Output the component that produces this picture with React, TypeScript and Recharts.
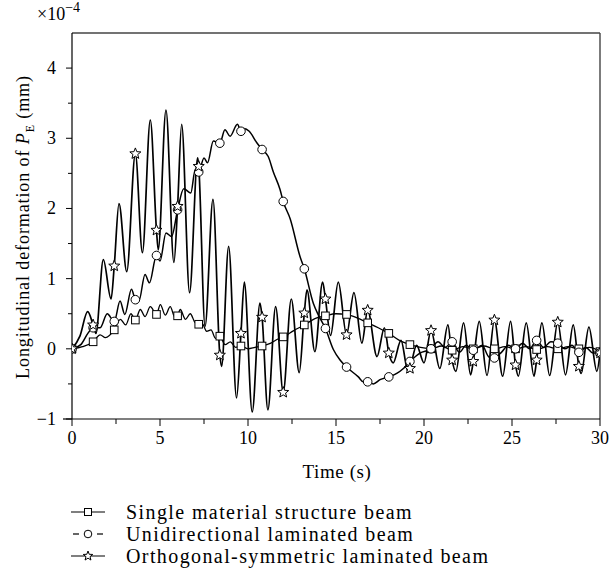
import React from 'react';
import { LineChart, Line, XAxis, YAxis, ReferenceLine } from 'recharts';

// Times (s) at which each series carries a symbol
const markerTimes = [0, 1.2, 2.4, 3.6, 4.8, 6, 7.2, 8.4, 9.6, 10.8, 12, 13.2, 14.4, 15.6, 16.8, 18, 19.2, 20.4, 21.6, 22.8, 24, 25.2, 26.4, 27.6, 28.8, 30];

// Single material structure beam (×10^-4 mm)
const singleTimes = [0, 0.6, 1.2, 1.6, 1.9, 2.4, 2.75, 3.05, 3.35, 3.6, 3.88, 4.15, 4.45, 4.8, 5.02, 5.3, 5.58, 5.85, 6, 6.15, 6.45, 6.72, 7, 7.2, 7.4, 7.65, 7.9, 8.15, 8.4, 8.7, 9, 9.3, 9.6, 10, 10.4, 10.8, 11.3, 11.7, 12, 12.6, 13.2, 13.8, 14.4, 15, 15.6, 16.2, 16.8, 17.4, 18, 18.6, 19.2, 19.8, 20.4, 21, 21.6, 22.2, 22.8, 23.4, 24, 24.6, 25.2, 25.8, 26.4, 27, 27.6, 28.2, 28.8, 29.4, 30];
const singleValues = [0, 0.03, 0.1, 0.2, 0.16, 0.27, 0.42, 0.34, 0.5, 0.41, 0.56, 0.46, 0.6, 0.49, 0.63, 0.48, 0.6, 0.45, 0.47, 0.56, 0.42, 0.5, 0.37, 0.35, 0.36, 0.25, 0.27, 0.15, 0.18, 0.06, 0.1, 0.02, 0.04, 0, 0.02, 0.04, 0.08, 0.14, 0.17, 0.26, 0.34, 0.43, 0.47, 0.5, 0.49, 0.44, 0.37, 0.3, 0.22, 0.12, 0.06, 0.02, 0, 0.04, -0.02, 0.03, 0, 0.04, 0, 0.03, 0, 0.03, -0.01, 0.03, 0, 0.03, 0, 0.02, -0.04];

// Unidirectional laminated beam (×10^-4 mm)
const uniTimes = [0, 0.5, 0.9, 1.2, 1.6, 2, 2.4, 2.73, 3, 3.38, 3.6, 3.8, 4.15, 4.4, 4.8, 5, 5.34, 5.66, 6, 6.35, 6.75, 7, 7.2, 7.5, 7.7, 8.03, 8.4, 8.69, 8.98, 9.4, 9.6, 9.78, 10.07, 10.49, 10.8, 11.15, 11.44, 11.82, 12, 12.4, 12.95, 13.2, 13.71, 14, 14.4, 14.85, 15.23, 15.6, 16.27, 16.55, 16.8, 17.12, 17.5, 18, 18.45, 18.83, 19.2, 19.77, 20.4, 20.8, 21.2, 21.6, 22, 22.4, 22.8, 23.3, 23.7, 24, 24.4, 24.8, 25.2, 25.6, 26, 26.4, 26.8, 27.2, 27.6, 28, 28.4, 28.8, 29.2, 29.6, 30];
const uniValues = [0, 0.06, 0.22, 0.3, 0.3, 0.5, 0.39, 0.68, 0.49, 0.85, 0.7, 0.68, 1.06, 0.94, 1.33, 1.25, 1.65, 1.6, 1.98, 2.28, 2.22, 2.55, 2.52, 2.72, 2.65, 2.96, 2.93, 3.12, 3.03, 3.2, 3.1, 3.14, 3.1, 2.94, 2.84, 2.74, 2.52, 2.27, 2.1, 1.85, 1.32, 1.14, 0.65, 0.48, 0.29, -0.01, -0.16, -0.26, -0.4, -0.47, -0.47, -0.5, -0.44, -0.4, -0.35, -0.28, -0.18, -0.06, 0, 0.1, 0.02, 0.1, -0.05, 0.05, -0.02, 0.05, -0.12, -0.13, -0.05, 0.05, 0, 0.08, 0, 0.12, 0.02, 0.1, 0.08, 0, 0.05, -0.05, 0.02, -0.06, -0.06];

// Orthogonal-symmetric laminated beam (×10^-4 mm)
const orthoTimes = [0, 0.45, 0.89, 1.2, 1.36, 1.78, 2.22, 2.4, 2.67, 3.11, 3.6, 4, 4.45, 4.8, 4.9, 5.34, 5.79, 6, 6.23, 6.68, 7.14, 7.2, 7.56, 8.01, 8.4, 8.5, 8.9, 9.35, 9.6, 9.79, 10.24, 10.68, 10.8, 11.13, 11.57, 12, 12.46, 12.91, 13.2, 13.35, 13.8, 14.24, 14.4, 14.69, 15.13, 15.6, 16.02, 16.47, 16.8, 17.33, 17.75, 18, 18.25, 18.69, 19.1, 19.2, 19.58, 20, 20.4, 20.9, 21.36, 21.6, 21.81, 22.25, 22.65, 22.8, 23.14, 23.58, 24, 24.47, 24.92, 25.2, 25.36, 25.81, 26.25, 26.4, 26.7, 27.14, 27.6, 28.04, 28.48, 28.8, 28.93, 29.37, 29.82, 30];
const orthoValues = [0, 0.18, 0.53, 0.34, 0.22, 1.27, 0.71, 1.18, 2.07, 1.1, 2.78, 1.37, 3.26, 1.69, 1.41, 3.4, 1.23, 2.03, 3.2, 0.8, 2.72, 2.6, 0.32, 2.13, -0.09, -0.25, 1.46, -0.7, 0.22, 0.95, -0.9, 0.65, 0.45, -0.87, 0.6, -0.62, 0.71, -0.34, 0.51, 0.84, -0.04, 0.95, 0.71, 0.19, 0.95, 0.2, 0.8, 0.08, 0.55, -0.11, 0.3, -0.06, -0.2, 0.12, -0.33, -0.28, 0.05, -0.2, 0.26, -0.28, 0.34, -0.16, -0.32, 0.37, -0.37, -0.18, 0.39, -0.38, 0.41, -0.39, 0.39, -0.23, -0.39, 0.37, -0.39, -0.16, 0.37, -0.38, 0.38, -0.37, 0.34, -0.25, -0.35, 0.31, -0.32, -0.06];

const xTicks = [0, 2.5, 5, 7.5, 10, 12.5, 15, 17.5, 20, 22.5, 25, 27.5, 30];
const yTicks = [-1, -0.5, 0, 0.5, 1, 1.5, 2, 2.5, 3, 3.5, 4];

const seriesNames = ['Single material structure beam', 'Unidirectional laminated beam', 'Orthogonal-symmetric laminated beam'];

const FONT = '"Liberation Serif", "Times New Roman", serif';

const zip = (ts: number[], vs: number[]) => ts.map((t, i) => ({ t, v: vs[i] }));
const singleData = zip(singleTimes, singleValues);
const uniData = zip(uniTimes, uniValues);
const orthoData = zip(orthoTimes, orthoValues);

const isMarker = (t: number) => markerTimes.some((m) => Math.abs(m - t) < 1e-6);

type Shape = 'square' | 'circle' | 'star';

function starPoints(cx: number, cy: number, ro: number, ri: number) {
  const pts: string[] = [];
  for (let i = 0; i < 10; i++) {
    const r = i % 2 === 0 ? ro : ri;
    const a = -Math.PI / 2 + (i * Math.PI) / 5;
    pts.push(`${(cx + r * Math.cos(a)).toFixed(2)},${(cy + r * Math.sin(a)).toFixed(2)}`);
  }
  return pts.join(' ');
}

function Symbol({ shape, cx, cy }: { shape: Shape; cx: number; cy: number }) {
  if (shape === 'square') {
    return <rect x={cx - 3.8} y={cy - 3.8} width={7.6} height={7.6} fill="#fff" stroke="#000" strokeWidth={1} />;
  }
  if (shape === 'circle') {
    return <circle cx={cx} cy={cy} r={4.3} fill="#fff" stroke="#000" strokeWidth={1} />;
  }
  return <polygon points={starPoints(cx, cy, 5.8, 2.5)} fill="#fff" stroke="#000" strokeWidth={1} />;
}

const makeDot = (shape: Shape) => (props: any) => {
  const { cx, cy, payload, index } = props;
  const key = `${shape}-${index}`;
  if (cx == null || cy == null || !payload || !isMarker(payload.t)) return <g key={key} />;
  return (
    <g key={key}>
      <Symbol shape={shape} cx={cx} cy={cy} />
    </g>
  );
};

const XTick = (props: any) => {
  const { x, y, payload } = props;
  const v = payload.value as number;
  const major = Math.abs(v % 5) < 1e-6;
  return (
    <g>
      <line x1={x} y1={y} x2={x} y2={y + (major ? 7 : 5)} stroke="#000" strokeWidth={1} />
      {major && (
        <text x={x} y={y + 25} textAnchor="middle" fontFamily={FONT} fontSize={18} fill="#000">
          {String(v)}
        </text>
      )}
    </g>
  );
};

const YTick = (props: any) => {
  const { x, y, payload } = props;
  const v = payload.value as number;
  const major = Math.abs(v - Math.round(v)) < 1e-6;
  return (
    <g>
      <line x1={x - (major ? 6 : 4)} y1={y} x2={x} y2={y} stroke="#000" strokeWidth={1} />
      {major && (
        <text x={x - 16} y={y + 6} textAnchor="end" fontFamily={FONT} fontSize={18} fill="#000">
          {v < 0 ? `\u2212${Math.abs(v)}` : String(v)}
        </text>
      )}
    </g>
  );
};

function LegendSymbol({ shape }: { shape: Shape }) {
  return (
    <svg width={40} height={16} style={{ display: 'block', flex: 'none' }}>
      {shape === 'circle' ? (
        <>
          <line x1={2} y1={8} x2={8} y2={8} stroke="#000" strokeWidth={1.2} />
          <line x1={26} y1={8} x2={32} y2={8} stroke="#000" strokeWidth={1.2} />
        </>
      ) : (
        <line x1={0} y1={8} x2={34} y2={8} stroke="#000" strokeWidth={1.2} />
      )}
      {shape === 'square' && <rect x={13.5} y={4.5} width={7} height={7} fill="#fff" stroke="#000" strokeWidth={1} />}
      {shape === 'circle' && <circle cx={17} cy={8} r={3.8} fill="#fff" stroke="#000" strokeWidth={1} />}
      {shape === 'star' && <polygon points={starPoints(17, 8, 5, 2.1)} fill="#fff" stroke="#000" strokeWidth={1} />}
    </svg>
  );
}

const legendShapes: Shape[] = ['square', 'circle', 'star'];

export default function App() {
  return (
    <div style={{ position: 'absolute', left: 0, top: 0, width: 610, height: 580, background: '#fff' }}>
      <LineChart width={610} height={580} margin={{ top: 33, right: 10, left: 0, bottom: 131 }}>
        <XAxis
          dataKey="t"
          type="number"
          domain={[0, 30]}
          ticks={xTicks}
          interval={0}
          allowDataOverflow
          height={30}
          tickSize={0}
          tickMargin={0}
          tick={<XTick />}
          stroke="#000"
          strokeWidth={1.2}
        />
        <YAxis
          type="number"
          domain={[-1, 4.5]}
          ticks={yTicks}
          interval={0}
          allowDataOverflow
          width={72}
          tickSize={0}
          tickMargin={0}
          tick={<YTick />}
          stroke="#000"
          strokeWidth={1.2}
        />
        <ReferenceLine y={4.5} stroke="#444" strokeWidth={1.4} />
        <ReferenceLine x={30} stroke="#444" strokeWidth={1.4} />
        <Line data={singleData} dataKey="v" type="monotone" stroke="#000" strokeWidth={1.3} dot={makeDot('square')} activeDot={false} isAnimationActive={false} />
        <Line data={uniData} dataKey="v" type="monotone" stroke="#000" strokeWidth={1.5} dot={makeDot('circle')} activeDot={false} isAnimationActive={false} />
        <Line data={orthoData} dataKey="v" type="monotone" stroke="#000" strokeWidth={1.7} dot={makeDot('star')} activeDot={false} isAnimationActive={false} />
      </LineChart>

      <svg width={610} height={580} style={{ position: 'absolute', left: 0, top: 0, pointerEvents: 'none' }}>
        <line x1={63} y1={419} x2={72} y2={419} stroke="#000" strokeWidth={1.2} />
        <text x={37} y={20} fontFamily={FONT} fontSize={18} fill="#000">
          ×10<tspan dy={-8} fontSize={14}>−4</tspan>
        </text>
        <text transform="translate(29,227) rotate(-90)" textAnchor="middle" fontFamily={FONT} fontSize={18} fill="#000" letterSpacing={0.9}>
          Longitudinal deformation of <tspan fontStyle="italic">P</tspan>
          <tspan dy={5} fontSize={12}>E</tspan>
          <tspan dy={-5}> (mm)</tspan>
        </text>
        <text x={337} y={478} textAnchor="middle" fontFamily={FONT} fontSize={19} fill="#000" letterSpacing={0.6}>
          Time (s)
        </text>
      </svg>

      {seriesNames.map((name, i) => (
        <div
          key={name}
          style={{ position: 'absolute', left: 71, top: 501 + i * 22, height: 22, display: 'flex', alignItems: 'center', fontFamily: FONT, fontSize: 20, letterSpacing: 1.4, color: '#000', whiteSpace: 'nowrap' }}
        >
          <LegendSymbol shape={legendShapes[i]} />
          <span style={{ marginLeft: 15 }}>{name}</span>
        </div>
      ))}
    </div>
  );
}
